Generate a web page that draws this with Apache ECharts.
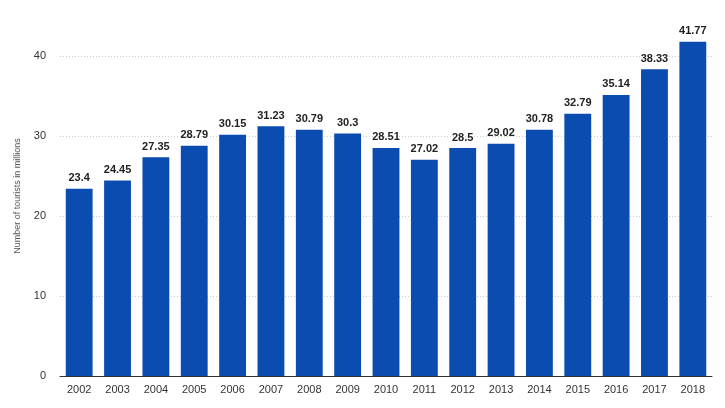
<!DOCTYPE html>
<html><head><meta charset="utf-8">
<script src="https://cdn.jsdelivr.net/npm/echarts@6/dist/echarts.min.js"></script>
<style>html,body{margin:0;padding:0;background:#fff}#c{width:725px;height:408px}</style>
</head><body><div id="c"></div>
<script>
const years = ['2002','2003','2004','2005','2006','2007','2008','2009','2010','2011','2012','2013','2014','2015','2016','2017','2018'];
const tourists = [23.4,24.45,27.35,28.79,30.15,31.23,30.79,30.3,28.51,27.02,28.5,29.02,30.78,32.79,35.14,38.33,41.77];
const chart = echarts.init(document.getElementById('c'));
chart.setOption({
  animation:false,
  grid:{left:60,right:13,top:16,bottom:32},
  xAxis:{type:'category',data:years,
    axisLine:{lineStyle:{color:'#333'}},axisTick:{show:false},
    axisLabel:{color:'#333',fontSize:11,fontFamily:'Arial, Liberation Sans',margin:8}},
  yAxis:{type:'value',min:0,max:45,interval:10,
    name:'Number of tourists in millions',nameLocation:'middle',nameGap:38,
    nameTextStyle:{color:'#555',fontSize:9,fontFamily:'Arial, Liberation Sans'},
    axisLabel:{color:'#333',fontSize:11,margin:14,showMaxLabel:false,fontFamily:'Arial, Liberation Sans'},
    splitLine:{showMaxLine:false,lineStyle:{color:'#ccc',type:[1,2]}}},
  series:[{type:'bar',data:tourists,barWidth:'70%',
    itemStyle:{color:'#0a4cb0'},
    label:{show:true,position:'top',color:'#222',fontWeight:'bold',fontSize:11,fontFamily:'Arial, Liberation Sans',distance:5}}]
});
</script></body></html>
